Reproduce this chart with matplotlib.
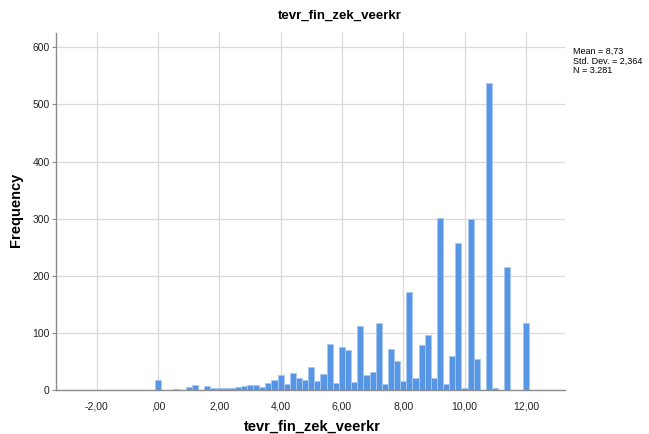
import numpy as np
import matplotlib.pyplot as plt

plt.rcParams['font.family'] = ['Liberation Sans', 'DejaVu Sans']

# bin centres (width 0,2) and counts
bin_centres = [round(0.2 * i, 1) for i in range(61)]
counts = [17, 0, 0, 1, 0, 6, 9, 0, 7, 3,
          3, 4, 3, 5, 7, 8, 9, 5, 12, 18,
          26, 10, 30, 21, 17, 40, 16, 28, 81, 12,
          76, 70, 14, 112, 27, 31, 118, 11, 71, 51,
          15, 171, 21, 78, 97, 21, 301, 10, 60, 257,
          4, 299, 54, 0, 537, 4, 0, 216, 0, 0,
          117]
bin_width = 0.2

x_ticks = [-2, 0, 2, 4, 6, 8, 10, 12]
x_tick_labels = ['-2,00', ',00', '2,00', '4,00', '6,00', '8,00', '10,00', '12,00']
y_ticks = [0, 100, 200, 300, 400, 500, 600]
stats_text = 'Mean = 8,73\nStd. Dev. = 2,364\nN = 3.281'

fig = plt.figure(figsize=(6.49, 4.34), dpi=100)
ax = fig.add_axes([0.0863, 0.1014, 0.7843, 0.8226])

ax.bar(bin_centres, counts, width=bin_width, color='#5796e4',
       edgecolor='#a8c8f2', linewidth=0.6, zorder=3)

ax.set_xlim(-3.33, 13.28)
ax.set_ylim(0, 625)
ax.set_xticks(x_ticks)
ax.set_xticklabels(x_tick_labels)
ax.set_yticks(y_ticks)

ax.grid(True, color='#d9d9d9', linewidth=0.9, zorder=0)
for side in ['top', 'right']:
    ax.spines[side].set_visible(False)
for side in ['left', 'bottom']:
    ax.spines[side].set_color('#8c8c8c')
    ax.spines[side].set_linewidth(1.0)
    ax.spines[side].set_zorder(4)

ax.tick_params(axis='x', length=0, pad=8, labelsize=7.5, colors='#222222')
ax.tick_params(axis='y', length=3, color='#8c8c8c', pad=1.5, labelsize=7.5, labelcolor='#222222')

# titles placed in figure coordinates
fig.text(340 / 649, 1 - 16 / 434, 'tevr_fin_zek_veerkr', ha='center', va='center',
         fontsize=9.5, fontweight='bold')
fig.text(312 / 649, 1 - 427 / 434, 'tevr_fin_zek_veerkr', ha='center', va='center',
         fontsize=10.5, fontweight='bold')
fig.text(16 / 649, 1 - 210 / 434, 'Frequency', ha='center', va='center',
         rotation=90, fontsize=10.5, fontweight='bold')
fig.text(573 / 649, 1 - 47 / 434, stats_text, ha='left', va='top',
         fontsize=6.5, linespacing=1.05)

fig.savefig('out.png', dpi=100)
